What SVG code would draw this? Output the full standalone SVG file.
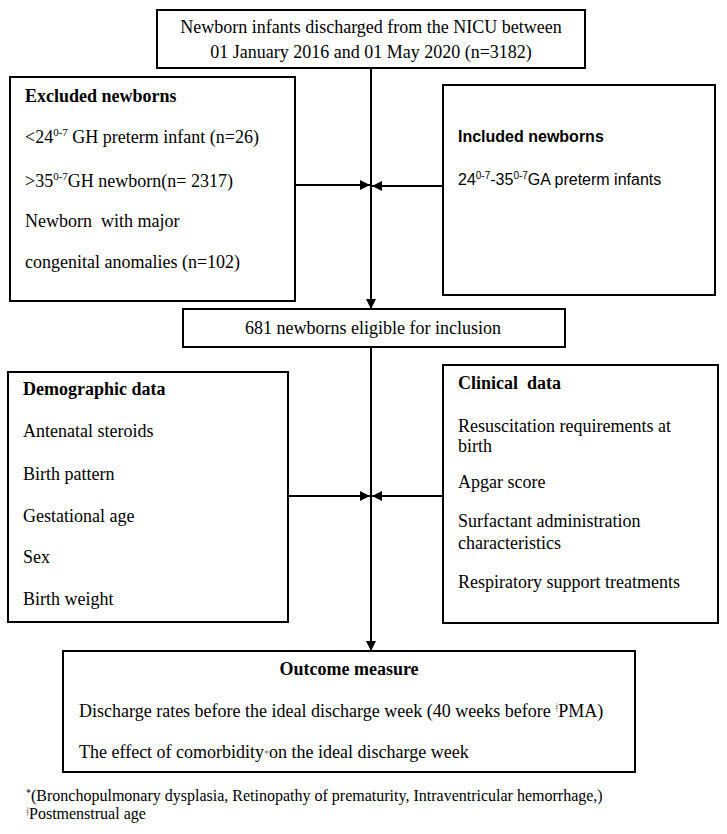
<svg xmlns="http://www.w3.org/2000/svg" width="727" height="834" viewBox="0 0 727 834">
<style>
.box{fill:#fff;stroke:#000;stroke-width:2}
.t{font-family:"Liberation Serif","Times New Roman",serif;font-size:18px;fill:#000}
.b{font-weight:bold}
.s{font-family:"Liberation Sans",Arial,sans-serif;font-size:16px;fill:#000}
.fn{font-family:"Liberation Serif","Times New Roman",serif;font-size:16px;fill:#000}
.c{fill:none;stroke:#000;stroke-width:2}
</style>
<defs>
<marker id="ah" markerUnits="userSpaceOnUse" markerWidth="10" markerHeight="10" refX="10" refY="5" orient="auto">
<path d="M0,0 L10,5 L0,10 z" fill="#000"/>
</marker>
</defs>
<g id="connectors">
<line class="c" x1="371" y1="68" x2="371" y2="309" marker-end="url(#ah)"/>
<line class="c" x1="296" y1="185" x2="370" y2="185" marker-end="url(#ah)"/>
<line class="c" x1="443" y1="186" x2="372" y2="186" marker-end="url(#ah)"/>
<line class="c" x1="371" y1="347" x2="371" y2="651" marker-end="url(#ah)"/>
<line class="c" x1="288" y1="496" x2="370" y2="496" marker-end="url(#ah)"/>
<line class="c" x1="443" y1="496" x2="372" y2="496" marker-end="url(#ah)"/>
</g>
<g id="top">
<rect class="box" x="157" y="10" width="428" height="58"/>
<text class="t" x="371" y="33" text-anchor="middle">Newborn infants discharged from the NICU between</text>
<text class="t" x="371" y="58" text-anchor="middle">01 January 2016 and 01 May 2020 (n=3182)</text>
</g>
<g id="excluded">
<rect class="box" x="10" y="77" width="285" height="224"/>
<text class="t b" x="25" y="102">Excluded newborns</text>
<text class="t" x="25" y="143">&lt;24<tspan font-size="11" dy="-7">0-7</tspan><tspan dy="7"> GH preterm infant  (n=26)</tspan></text>
<text class="t" x="25" y="187">&gt;35<tspan font-size="11" dy="-7">0-7</tspan><tspan dy="7">GH  newborn(n= 2317)</tspan></text>
<text class="t" x="25" y="227" xml:space="preserve">Newborn  with major</text>
<text class="t" x="25" y="268">congenital anomalies (n=102)</text>
</g>
<g id="included">
<rect class="box" x="443" y="85" width="272" height="210"/>
<text class="s b" x="458" y="142">Included newborns</text>
<text class="s" x="458" y="185" font-size="16.5">24<tspan font-size="10" dy="-6">0-7</tspan><tspan dy="6">-35</tspan><tspan font-size="10" dy="-6">0-7</tspan><tspan dy="6">GA preterm infants</tspan></text>
</g>
<g id="eligible">
<rect class="box" x="183" y="309" width="382" height="38"/>
<text class="t" x="373" y="334" text-anchor="middle">681 newborns eligible for inclusion</text>
</g>
<g id="demographic">
<rect class="box" x="8" y="372" width="280" height="250"/>
<text class="t b" x="23" y="395">Demographic data</text>
<text class="t" x="23" y="437">Antenatal steroids</text>
<text class="t" x="23" y="480">Birth pattern</text>
<text class="t" x="23" y="522">Gestational age</text>
<text class="t" x="23" y="563">Sex</text>
<text class="t" x="23" y="605">Birth weight</text>
</g>
<g id="clinical">
<rect class="box" x="443" y="365" width="275" height="258"/>
<text class="t b" x="458" y="389" xml:space="preserve">Clinical  data</text>
<text class="t" x="458" y="432">Resuscitation requirements at</text>
<text class="t" x="458" y="452">birth</text>
<text class="t" x="458" y="488">Apgar score</text>
<text class="t" x="458" y="527">Surfactant administration</text>
<text class="t" x="458" y="549">characteristics</text>
<text class="t" x="458" y="588">Respiratory support treatments</text>
</g>
<g id="outcome">
<rect class="box" x="63" y="651" width="572" height="121"/>
<text class="t b" x="349" y="675" text-anchor="middle">Outcome measure</text>
<text class="t" x="79" y="717">Discharge rates before the ideal discharge week (40 weeks before <tspan font-size="12" dy="-5" fill="#777">ǂ</tspan><tspan dy="5">PMA)</tspan></text>
<text class="t" x="79" y="758">The effect of comorbidity<tspan font-size="10" dy="-1" fill="#777">*</tspan><tspan dy="1">on the ideal discharge week</tspan></text>
</g>
<g id="footnotes">
<text class="fn" x="26" y="801"><tspan font-size="10" dy="-5">*</tspan><tspan dy="5">(Bronchopulmonary dysplasia, Retinopathy of prematurity, Intraventricular hemorrhage,)</tspan></text>
<text class="fn" x="26" y="819"><tspan font-size="12" dy="-3" fill="#777">ǂ</tspan><tspan dy="3">Postmenstrual age</tspan></text>
</g>
</svg>
